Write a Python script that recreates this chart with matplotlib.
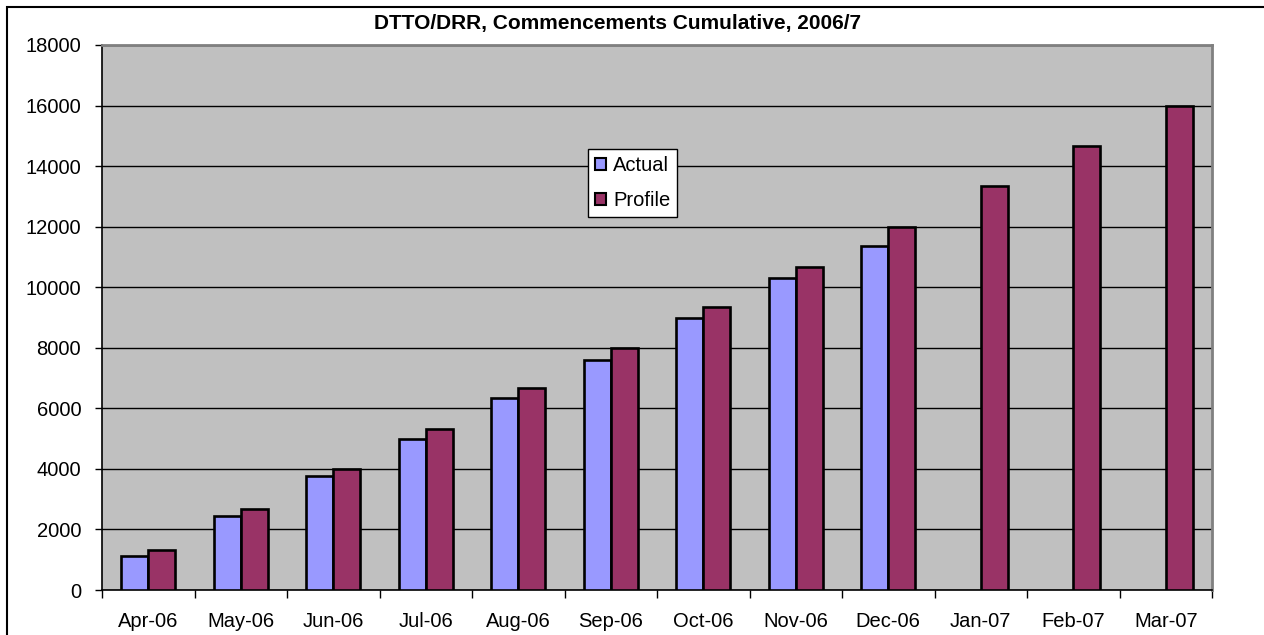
import numpy as np
import matplotlib
matplotlib.use('Agg')
import matplotlib.pyplot as plt
from matplotlib.patches import Rectangle

plt.rcParams['font.family'] = ['Liberation Sans', 'DejaVu Sans']

# data
months = ['Apr-06', 'May-06', 'Jun-06', 'Jul-06', 'Aug-06', 'Sep-06',
          'Oct-06', 'Nov-06', 'Dec-06', 'Jan-07', 'Feb-07', 'Mar-07']
actual = [1110, 2450, 3780, 5000, 6340, 7600, 8980, 10320, 11350]
profile = [1333, 2667, 4000, 5333, 6667, 8000, 9333, 10667, 12000, 13333, 14667, 16000]
yticks = [0, 2000, 4000, 6000, 8000, 10000, 12000, 14000, 16000, 18000]

fig = plt.figure(figsize=(12.64, 6.35), dpi=100)
ax = fig.add_axes([102/1264, 45/635, (1212-102)/1264, (590-45)/635])
ax.set_facecolor('#C0C0C0')

x = np.arange(len(months))
w = 0.29
ax.bar(x[:len(actual)] - w/2, actual, w, color='#9999FF', edgecolor='black', linewidth=1.9, label='Actual', zorder=3)
ax.bar(x + w/2, profile, w, color='#993366', edgecolor='black', linewidth=1.9, label='Profile', zorder=3)

ax.set_xlim(-0.5, len(months) - 0.5)
ax.set_ylim(0, 18000)
ax.set_yticks(yticks)
ax.set_yticklabels([str(v) for v in yticks])
ax.yaxis.grid(True, color='black', linewidth=1, zorder=1)
ax.set_axisbelow(True)

ax.set_xticks(x)
ax.set_xticklabels(months)
ax.set_xticks(np.arange(len(months) + 1) - 0.5, minor=True)
ax.tick_params(axis='x', which='major', length=0, pad=16, labelsize=14.5)
ax.tick_params(axis='x', which='minor', length=6, width=1, direction='out')
ax.tick_params(axis='y', length=5, width=1, direction='out', pad=10, labelsize=14.5)

ax.spines['left'].set_color('black')
ax.spines['bottom'].set_color('black')
ax.spines['left'].set_linewidth(1.2)
ax.spines['bottom'].set_linewidth(1.2)
ax.spines['top'].set_color('#808080')
ax.spines['right'].set_color('#808080')
ax.spines['top'].set_linewidth(2)
ax.spines['right'].set_linewidth(2)

fig.text(618/1264, 1 - 23/635, 'DTTO/DRR, Commencements Cumulative, 2006/7',
         ha='center', va='center', fontsize=15, fontweight='bold')

leg = ax.legend(loc='upper left', bbox_to_anchor=(588/1264, 1 - 149/635),
                bbox_transform=fig.transFigure, fontsize=14.5, frameon=True,
                fancybox=False, framealpha=1, edgecolor='black',
                handlelength=0.55, handleheight=0.55, handletextpad=0.35,
                borderpad=0.35, labelspacing=0.8, borderaxespad=0)
leg.get_frame().set_linewidth(1)
for h in leg.legend_handles:
    h.set_linewidth(1.5)

# chart border (only left and top edges are visible in the crop)
fig.patches.append(Rectangle((7/1264, -0.05), 1.2, 1 - 7/635 + 0.05,
                             transform=fig.transFigure, fill=False,
                             edgecolor='black', linewidth=1.5))

fig.savefig('out.png', dpi=100)
